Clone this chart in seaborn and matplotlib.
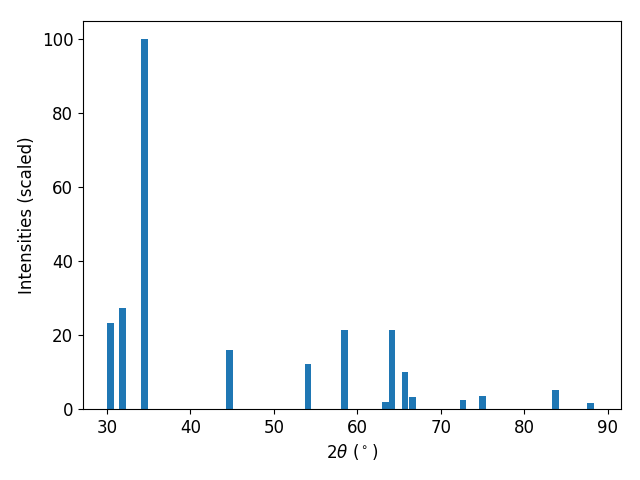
import numpy as np
import matplotlib
matplotlib.use("Agg")
import matplotlib.pyplot as plt
import seaborn as sns

two_theta = [30.42, 31.86, 34.49, 44.67, 54.07, 58.44, 63.35, 64.13, 65.69, 66.59, 72.63, 74.97, 83.71, 87.9]
intensity = [23.3, 27.4, 100.0, 16.0, 12.2, 21.4, 1.9, 21.4, 10.0, 3.3, 2.4, 3.5, 5.1, 1.6]

plt.style.use("default")
plt.rcParams["font.family"] = ["DejaVu Sans"]
plt.rcParams["font.size"] = 12

fig, ax = plt.subplots(figsize=(6.4, 4.8), dpi=100)
ax.bar(two_theta, intensity, width=0.8, color=sns.color_palette("tab10")[0])
ax.set_xlim(27.13, 91.56)
ax.set_xlabel(r"$2\theta$ ($^\circ$)")
ax.set_ylabel("Intensities (scaled)")
fig.subplots_adjust(left=83/640, right=621/640, bottom=1-409/480, top=1-21/480)
fig.savefig("out.png", dpi=100)
